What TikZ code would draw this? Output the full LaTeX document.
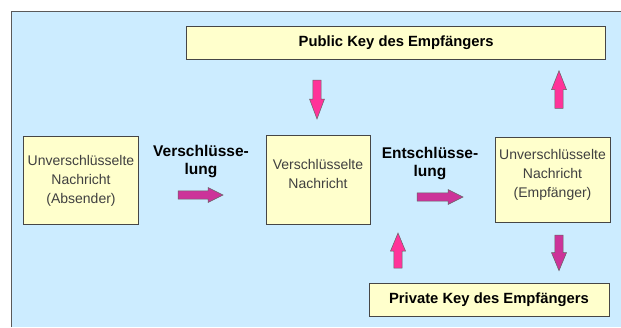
\documentclass[tikz,border=0pt]{standalone}
\usepackage{fontspec}
\setmainfont{Liberation Sans}
\definecolor{bgblue}{RGB}{204,236,255}
\definecolor{framegray}{RGB}{90,90,90}
\definecolor{boxfill}{RGB}{255,255,204}
\definecolor{boxline}{RGB}{70,70,70}
\definecolor{boxtextcol}{RGB}{64,64,64}
\definecolor{arrowmagenta}{RGB}{204,51,153}
\definecolor{arrowpink}{RGB}{255,51,153}
\definecolor{arrowline}{RGB}{100,100,100}
\begin{document}
\begin{tikzpicture}[x=1pt,y=-1pt,
  box/.style={draw=boxline, fill=boxfill, line width=0.8pt, inner sep=0pt},
  boxtext/.style={text=boxtextcol, align=center, font=\fontsize{14}{19}\selectfont},
  steplabel/.style={align=center, font=\bfseries\fontsize{15.5}{17.5}\selectfont},
  keylabel/.style={font=\bfseries\fontsize{14.8}{17}\selectfont},
  magentaarrow/.style={fill=arrowmagenta, draw=arrowline, line width=0.5pt},
  pinkarrow/.style={fill=arrowpink, draw=arrowline, line width=0.5pt},
  pics/blockarrow/.style 2 args={code={
    \path[pic actions] (0,-4.2) -- ({#1-#2},-4.2) -- ({#1-#2},-7.5) -- (#1,0)
      -- ({#1-#2},7.5) -- ({#1-#2},4.2) -- (0,4.2) -- cycle;}}
]
\useasboundingbox (0,0) rectangle (621,327);

% background panel with its frame on top and left
\fill[bgblue] (11.5,11.5) rectangle (621,327);
\draw[framegray, line width=0.8pt] (11.5,327) -- (11.5,11.5) -- (621,11.5);

% message boxes
\node[box, minimum width=115pt, minimum height=88pt] (plainsrc) at (81,180) {};
\node[boxtext] (plainsrctext) at (81,181) {Unverschlüsselte\\Nachricht\\(Absender)};

\node[box, minimum width=104pt, minimum height=89pt] (cipher) at (318,179.5) {};
\node[boxtext] (ciphertext) at (318,173.5) {Verschlüsselte\\Nachricht};

\node[box, minimum width=115pt, minimum height=85pt] (plaindst) at (552.5,179.5) {};
\node[boxtext] (plaindsttext) at (552.5,175) {Unverschlüsselte\\Nachricht\\(Empfänger)};

% key boxes
\node[box, minimum width=419pt, minimum height=33pt, keylabel] (pubkey) at (396.2,42.6) {Public Key des Empfängers};
\node[box, minimum width=240pt, minimum height=33.5pt, keylabel] (privkey) at (489,299.7) {Private Key des Empfängers};

% step labels
\node[steplabel] (enc) at (201,161.5) {Verschlüsse-\\lung};
\node[steplabel] (dec) at (430,163.5) {Entschlüsse-\\lung};

% block arrows
\pic[magentaarrow] at (178,195) {blockarrow={45}{15}};
\pic[magentaarrow] at (417,197) {blockarrow={46}{15}};
\pic[pinkarrow, rotate=-90] at (317,80) {blockarrow={39}{20}};
\pic[pinkarrow, rotate=90] at (559,108.3) {blockarrow={37.6}{19}};
\pic[pinkarrow, rotate=90] at (398,268) {blockarrow={35}{18}};
\pic[magentaarrow, rotate=-90] at (559,235) {blockarrow={35.7}{18}};
\end{tikzpicture}
\end{document}
